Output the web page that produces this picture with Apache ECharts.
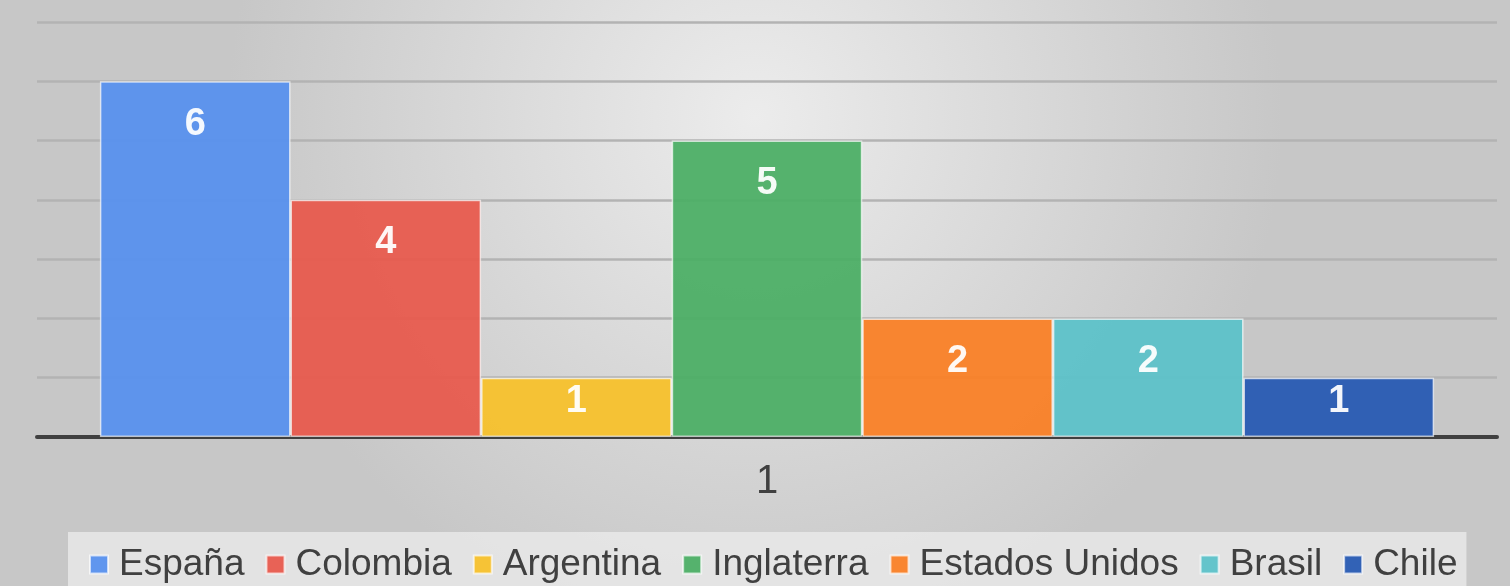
<!DOCTYPE html>
<html>
<head>
<meta charset="utf-8">
<script src="https://cdn.jsdelivr.net/npm/echarts@6/dist/echarts.min.js"></script>
<style>
  html, body { margin: 0; padding: 0; }
  #main { width: 1510px; height: 586px; }
</style>
</head>
<body>
<div id="main"></div>
<script>
var categories = ["1"];
var countries = ["España", "Colombia", "Argentina", "Inglaterra", "Estados Unidos", "Brasil", "Chile"];
var values = [6, 4, 1, 5, 2, 2, 1];
var colors = ["#5790ee", "#e8594c", "#f6c02a", "#4bae65", "#fa7f25", "#5bc1c9", "#2659b2"];

var font = "'Liberation Sans', Arial, sans-serif";

var series = [];
countries.forEach(function(name, i){
    series.push({
        name: name,
        type: 'bar',
        barWidth: 190.6,
        barGap: '0%',
        data: [values[i]],
        itemStyle: {
            color: colors[i],
            opacity: 0.94,
            borderColor: 'rgba(255,255,255,0.7)',
            borderWidth: 1.5
        },
        label: {
            show: true,
            position: 'insideTop',
            // short bars keep the label near the middle
            distance: values[i] >= 2 ? 24 : 5,
            color: '#ffffff',
            fontFamily: font,
            fontWeight: 'bold',
            fontSize: 38
        }
    });
});

var myChart = echarts.init(document.getElementById('main'));
var option = {
    backgroundColor: {
        type: 'radial', x: 0.5, y: 0.2, r: 0.9,
        colorStops: [
            { offset: 0, color: '#ececec' },
            { offset: 1, color: '#c7c7c7' }
        ]
    },
    animation: false,
    grid: { left: 37, right: 13, top: 22, bottom: 149 },
    legend: {
        data: countries,
        left: 68,
        top: 532,
        padding: [14, 9, 10, 21],
        backgroundColor: 'rgba(236,236,236,0.75)',
        icon: 'rect',
        itemWidth: 18,
        itemHeight: 18,
        itemGap: 21,
        textStyle: { fontFamily: font, fontSize: 37, color: '#404040', padding: [0, 0, 0, 6] }
    },
    xAxis: {
        type: 'category',
        data: categories,
        axisLine: { lineStyle: { color: '#404040', width: 4 } },
        axisTick: { show: false },
        axisLabel: { fontFamily: font, fontSize: 40, color: '#404040', margin: 25 }
    },
    yAxis: {
        type: 'value',
        min: 0,
        max: 7,
        interval: 1,
        axisLabel: { show: false },
        axisLine: { show: false },
        axisTick: { show: false },
        splitLine: { lineStyle: { color: '#b3b3b3', width: 2.5 } }
    },
    series: series
};
myChart.setOption(option);
</script>
</body>
</html>
